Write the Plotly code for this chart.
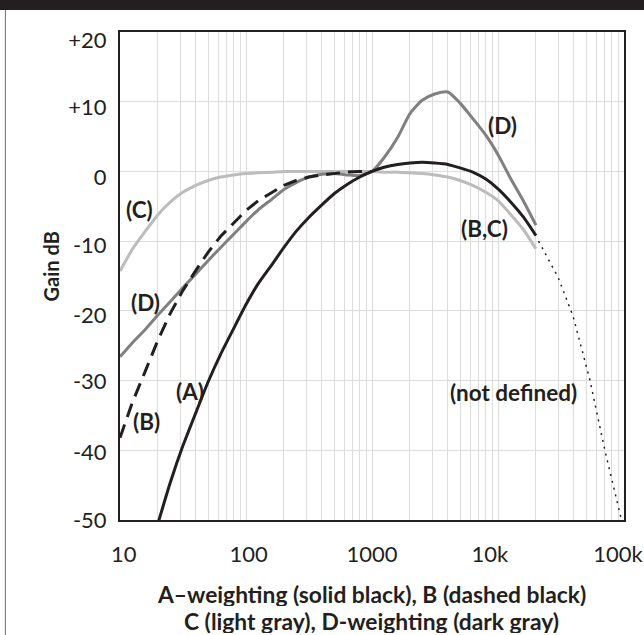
import plotly.graph_objects as go

# ---------------- data ----------------
freq_a = [20, 25, 31.5, 40, 50, 63, 80, 100, 125, 160, 200, 250, 315, 400, 500, 630, 800,
          1000, 1250, 1600, 2000, 2500, 3150, 4000, 5000, 6300, 8000, 10000, 12500, 16000, 20000]
gain_a = [-50.5, -44.7, -39.4, -34.6, -30.2, -26.2, -22.5, -19.1, -16.1, -13.4, -10.9, -8.6, -6.6, -4.8, -3.2, -1.9, -0.8,
          0.0, 0.6, 1.0, 1.2, 1.3, 1.2, 1.0, 0.5, -0.1, -1.1, -2.5, -4.3, -6.6, -9.2]

freq_b = [10, 12.5, 16, 20, 25, 31.5, 40, 50, 63, 80, 100, 125, 160, 200, 250, 315, 400, 500, 630, 800, 1000]
gain_b = [-38.2, -33.2, -28.5, -24.2, -20.4, -17.1, -14.2, -11.6, -9.3, -7.4, -5.6, -4.2, -3.0, -2.0, -1.3, -0.8,
          -0.5, -0.3, -0.1, 0.0, 0.0]

freq_c = [10, 12.5, 16, 20, 25, 31.5, 40, 50, 63, 80, 100, 125, 160, 200, 250, 315, 400, 500, 630, 800,
          1000, 1250, 1600, 2000, 2500, 3150, 4000, 5000, 6300, 8000, 10000, 12500, 16000, 20000]
gain_c = [-14.3, -11.2, -8.5, -6.2, -4.4, -3.0, -2.0, -1.3, -0.8, -0.5, -0.3, -0.2, -0.1, 0.0, 0.0, 0.0, 0.0, 0.0, 0.0, 0.0,
          0.0, -0.1, -0.1, -0.2, -0.3, -0.5, -0.8, -1.3, -2.0, -3.0, -4.2, -6.1, -8.4, -11.1]

freq_d = [10, 12.5, 16, 20, 25, 31.5, 40, 50, 63, 80, 100, 125, 160, 200, 250, 315, 400, 500, 630, 800,
          1000, 1250, 1600, 2000, 2500, 3150, 4000, 5000, 6300, 8000, 10000, 12500, 16000, 20000]
gain_d = [-26.6, -24.6, -22.6, -20.6, -18.7, -16.7, -14.7, -12.8, -10.9, -9.0, -7.2, -5.5, -4.0, -2.6, -1.6, -0.8,
          -0.4, -0.3, -0.5, -0.6, 0.0, 2.0, 4.9, 8.3, 10.2, 11.1, 11.4, 9.8, 7.6, 5.2, 2.4, -0.9, -4.3, -7.7]

freq_undef = [21000, 30000, 39500, 53600, 70500, 91600, 100000]
gain_undef = [-10.0, -15.2, -20.8, -29.9, -40.0, -48.6, -51.5]

x_tick_labels = ["10", "100", "1000", "10k", "100k"]
x_label_pos = [10.7, 104.9, 1000, 8610, 89500]
y_tick_labels = ["+20", "+10", "0", "-10", "-20", "-30", "-40", "-50"]
y_label_pos = [18.85, 9.17, -0.8, -10.63, -20.6, -30.06, -40.32, -50]

x_grid = [m * 10 ** e for e in range(1, 5) for m in range(1, 10)] + [100000]
y_grid = [-40, -30, -20, -10, 0, 10]

curve_labels = ["(C)", "(D)", "(A)", "(B)", "(D)", "(B,C)", "(not defined)"]
x_title_lines = ["A\u2013weighting (solid black), B (dashed black)", "C (light gray), D-weighting (dark gray)"]

# ---------------- styling ----------------
INK = "#231f20"
LIGHT = "#bcbcbc"
DARK = "#808080"
FONT = "Lato"

fig = go.Figure()
fig.add_trace(go.Scatter(x=freq_c, y=gain_c, mode="lines", line=dict(color=LIGHT, width=3, shape="spline", smoothing=0.5), name="C"))
fig.add_trace(go.Scatter(x=freq_d, y=gain_d, mode="lines", line=dict(color=DARK, width=3, shape="spline", smoothing=0.6), name="D"))
fig.add_trace(go.Scatter(x=freq_b, y=gain_b, mode="lines", line=dict(color=INK, width=3, dash="14px,8px"), name="B"))
fig.add_trace(go.Scatter(x=freq_a, y=gain_a, mode="lines", line=dict(color=INK, width=3, shape="spline", smoothing=0.5), name="A"))
fig.add_trace(go.Scatter(x=freq_undef, y=gain_undef, mode="lines", line=dict(color=INK, width=1.5, dash="2px,5px"),
                         name="not defined"))

fig.update_xaxes(
    type="log", range=[1, 5], automargin=False,
    tickmode="array", tickvals=x_label_pos, ticktext=x_tick_labels,
    showgrid=False, ticks="", zeroline=False,
    showline=True, mirror=True, linecolor=INK, linewidth=2,
    tickfont=dict(family=FONT, size=22, color=INK),
    ticklabelstandoff=14,
    minor=dict(tickmode="array", tickvals=x_grid, showgrid=True, gridcolor="#dddddd", gridwidth=1.2, ticks=""),
)
fig.update_yaxes(
    range=[-50, 20], automargin=False,
    tickmode="array", tickvals=y_label_pos, ticktext=y_tick_labels,
    showgrid=False, ticks="", zeroline=False,
    showline=True, mirror=True, linecolor=INK, linewidth=2,
    tickfont=dict(family=FONT, size=22, color=INK),
    ticklabelstandoff=7,
    minor=dict(tickmode="array", tickvals=y_grid, showgrid=True, gridcolor="#dddddd", gridwidth=1.2, ticks=""),
)

ann_font = dict(family=FONT, size=22.5, color=INK)
label_xy = [(1.151, -5.39), (1.199, -18.8), (1.556, -31.5), (1.2105, -35.8), (4.034, 6.66), (3.895, -8.12),
            (4.1255, -31.64)]
annotations = []
for txt, (lx, ly) in zip(curve_labels, label_xy):
    annotations.append(dict(x=lx, y=ly, xref="x", yref="y", text="<b>%s</b>" % txt, showarrow=False,
                            font=ann_font, xanchor="center", yanchor="middle"))

# axis titles
annotations.append(dict(x=(52 - 120.5) / 503.5, y=(520 - 266) / 488, xref="paper", yref="paper",
                        text="<b>Gain dB</b>", textangle=-90, showarrow=False,
                        font=dict(family=FONT, size=20, color=INK), xanchor="center", yanchor="middle"))
for line, py in zip(x_title_lines, [594, 621]):
    annotations.append(dict(x=(372 - 120.5) / 503.5, y=-(py - 520) / 488, xref="paper", yref="paper",
                            text="<b>%s</b>" % line, showarrow=False, height=24,
                            font=dict(family=FONT, size=22.8, color=INK), xanchor="center", yanchor="middle"))

shapes = [
    # dark band across the top
    dict(type="rect", xref="paper", yref="paper", x0=-0.3, x1=1.1, y0=1 + (32 - 10) / 488, y1=1.2,
         fillcolor=INK, line=dict(width=0), layer="above"),
    # thin frame line at the left edge
    dict(type="line", xref="paper", yref="paper", x0=(6 - 120.5) / 503.5, x1=(6 - 120.5) / 503.5,
         y0=1 + (32 - 10) / 488, y1=-0.3, line=dict(color="#6d6d6d", width=1)),
]

fig.update_layout(
    width=644, height=635,
    margin=dict(l=120, r=20, t=32, b=115, pad=0),
    paper_bgcolor="white", plot_bgcolor="white",
    showlegend=False,
    annotations=annotations,
    shapes=shapes,
    font=dict(family=FONT, color=INK),
)

fig.write_html("out.html", config={"displayModeBar": False},
               post_script="document.body.style.margin='0';document.body.style.overflow='hidden';")
